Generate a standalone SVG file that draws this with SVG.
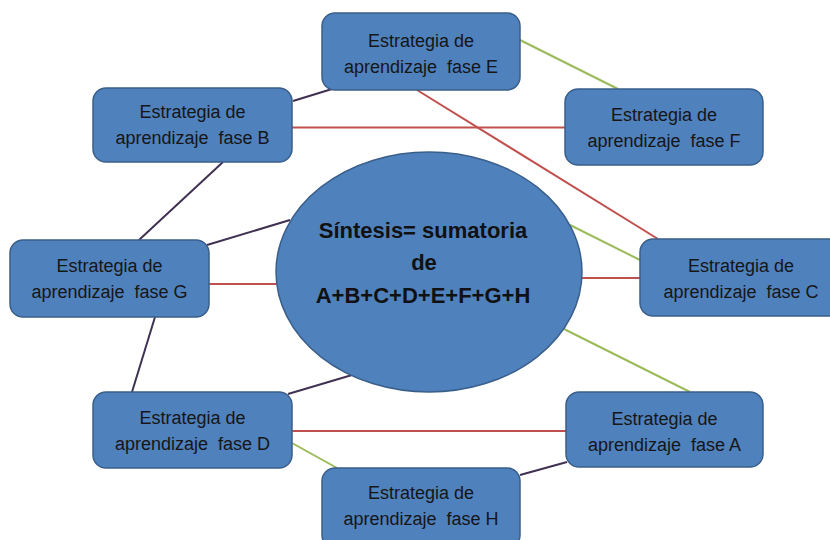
<svg xmlns="http://www.w3.org/2000/svg" width="830" height="540" viewBox="0 0 830 540">
<style>
.box{fill:#4F81BD;stroke:#3A5F8B;stroke-width:1.5}
.t{font-family:"Liberation Sans",Arial,sans-serif;font-size:18px;fill:#161616;text-anchor:middle;white-space:pre}
.c{font-family:"Liberation Sans",Arial,sans-serif;font-size:22px;font-weight:bold;fill:#111;text-anchor:middle}
.r{stroke:#C0504D;stroke-width:2;fill:none}
.g{stroke:#9BBB59;stroke-width:2;fill:none}
.p{stroke:#403152;stroke-width:2;fill:none}
</style>
<rect width="830" height="540" fill="#fff"/>
<g id="connectors">
<line class="g" x1="520" y1="40" x2="618" y2="89"/>
<line class="p" x1="293" y1="101" x2="332" y2="89"/>
<line class="r" x1="292" y1="127.5" x2="565" y2="127.5"/>
<line class="r" x1="417" y1="90" x2="658" y2="239"/>
<line class="p" x1="223" y1="162" x2="139" y2="240"/>
<line class="p" x1="207" y1="245" x2="290" y2="220"/>
<line class="r" x1="209" y1="284" x2="280" y2="284"/>
<line class="g" x1="570" y1="225" x2="640" y2="260"/>
<line class="r" x1="580" y1="278" x2="640" y2="278"/>
<line class="g" x1="562" y1="328" x2="690" y2="392"/>
<line class="p" x1="155" y1="317" x2="132" y2="392"/>
<line class="p" x1="288" y1="394" x2="352" y2="375"/>
<line class="r" x1="292" y1="431" x2="566" y2="431"/>
<line class="g" x1="292" y1="443" x2="337" y2="468"/>
<line class="p" x1="520" y1="475" x2="567" y2="462"/>
</g>
<g id="center">
<ellipse class="box" cx="429" cy="272" rx="153" ry="120"/>
<text class="c" x="423" y="238">Síntesis= sumatoria</text>
<text class="c" x="424" y="270">de</text>
<text class="c" x="423" y="303">A+B+C+D+E+F+G+H</text>
</g>
<g id="nodeE">
<rect class="box" x="322" y="13" width="198" height="77" rx="13"/>
<text class="t" x="421" y="46.5">Estrategia de</text>
<text class="t" x="421" y="72.5">aprendizaje  fase E</text>
</g>
<g id="nodeF">
<rect class="box" x="565" y="89" width="198" height="76" rx="13"/>
<text class="t" x="664" y="121">Estrategia de</text>
<text class="t" x="664" y="147">aprendizaje  fase F</text>
</g>
<g id="nodeB">
<rect class="box" x="93" y="88" width="199" height="74" rx="13"/>
<text class="t" x="192.5" y="118">Estrategia de</text>
<text class="t" x="192.5" y="144">aprendizaje  fase B</text>
</g>
<g id="nodeG">
<rect class="box" x="10" y="240" width="199" height="77" rx="13"/>
<text class="t" x="109.5" y="272">Estrategia de</text>
<text class="t" x="109.5" y="298">aprendizaje  fase G</text>
</g>
<g id="nodeC">
<rect class="box" x="640" y="239" width="202" height="77" rx="13"/>
<text class="t" x="741" y="272">Estrategia de</text>
<text class="t" x="741" y="298">aprendizaje  fase C</text>
</g>
<g id="nodeD">
<rect class="box" x="93" y="392" width="199" height="76" rx="13"/>
<text class="t" x="192.5" y="424">Estrategia de</text>
<text class="t" x="192.5" y="450">aprendizaje  fase D</text>
</g>
<g id="nodeA">
<rect class="box" x="566" y="392" width="197" height="75" rx="13"/>
<text class="t" x="664.5" y="425">Estrategia de</text>
<text class="t" x="664.5" y="451">aprendizaje  fase A</text>
</g>
<g id="nodeH">
<rect class="box" x="322" y="468" width="198" height="80" rx="13"/>
<text class="t" x="421" y="499">Estrategia de</text>
<text class="t" x="421" y="525">aprendizaje  fase H</text>
</g>
</svg>
